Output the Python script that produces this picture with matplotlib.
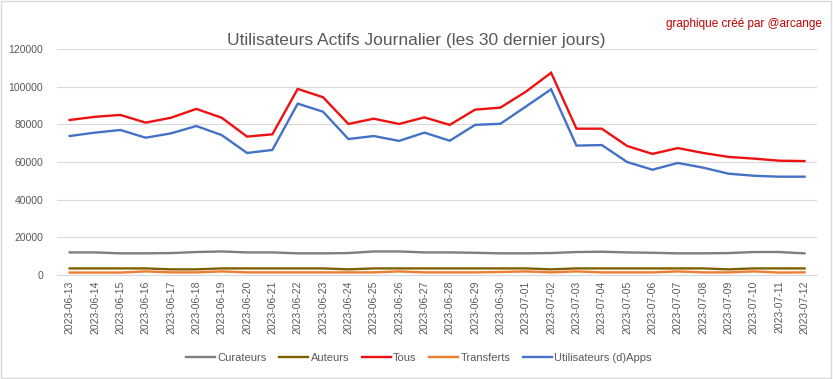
import numpy as np
import matplotlib
matplotlib.use('Agg')
import matplotlib.pyplot as plt
from matplotlib.patches import Rectangle

# Utilisateurs actifs journaliers - 30 derniers jours

dates = ['2023-06-13', '2023-06-14', '2023-06-15', '2023-06-16', '2023-06-17',
         '2023-06-18', '2023-06-19', '2023-06-20', '2023-06-21', '2023-06-22',
         '2023-06-23', '2023-06-24', '2023-06-25', '2023-06-26', '2023-06-27',
         '2023-06-28', '2023-06-29', '2023-06-30', '2023-07-01', '2023-07-02',
         '2023-07-03', '2023-07-04', '2023-07-05', '2023-07-06', '2023-07-07',
         '2023-07-08', '2023-07-09', '2023-07-10', '2023-07-11', '2023-07-12']

curateurs = [12000, 12000, 11500, 11500, 11650, 12200, 12500, 12000, 12000, 11500,
             11500, 11650, 12500, 12500, 12000, 12000, 11800, 11500, 11500, 11650,
             12200, 12350, 12000, 11800, 11500, 11500, 11650, 12200, 12200, 11500]

auteurs = [3500, 3500, 3500, 3500, 3000, 3000, 3500, 3500, 3500, 3500,
           3500, 3000, 3500, 3500, 3500, 3500, 3500, 3500, 3500, 3000,
           3500, 3500, 3500, 3500, 3500, 3500, 3000, 3500, 3500, 3500]

tous = [82300, 84000, 85000, 80900, 83500, 88200, 83500, 73500, 74700, 98800,
        94400, 80200, 83000, 80200, 83700, 79700, 87800, 88900, 97300, 107400,
        77700, 77700, 68500, 64300, 67400, 64800, 62700, 61800, 60700, 60500]

transferts = [1300, 1300, 1300, 1900, 1400, 1400, 1900, 1400, 1400, 1400,
              1400, 1400, 1400, 1900, 1400, 1400, 1400, 1600, 1900, 1400,
              1900, 1400, 1400, 1400, 1900, 1400, 1400, 1900, 1300, 1400]

dapps = [73800, 75600, 77000, 72900, 75200, 79100, 74300, 64800, 66400, 91000,
         86700, 72200, 73800, 71200, 75600, 71300, 79700, 80300, 89400, 98600,
         68700, 69000, 60000, 55900, 59500, 57000, 53800, 52700, 52200, 52200]

series = [('Curateurs', curateurs, '#7f7f7f'),
          ('Auteurs', auteurs, '#7f6000'),
          ('Tous', tous, '#ee1111'),
          ('Transferts', transferts, '#ed7d31'),
          ('Utilisateurs (d)Apps', dapps, '#4472c4')]

plt.rcParams['font.family'] = ['Liberation Sans', 'DejaVu Sans']

fig = plt.figure(figsize=(8.33, 3.79), dpi=100)
ax = fig.add_axes([0.0684, 0.2744, 0.9126, 0.5963])

x = np.arange(len(dates))
for name, vals, col in series:
    ax.plot(x, vals, color=col, lw=1.7, label=name, solid_joinstyle='miter')

ax.set_xlim(-0.5, len(dates) - 0.5)
ax.set_ylim(0, 120000)
ax.set_yticks(np.arange(0, 120001, 20000))
ax.set_xticks(x)
ax.set_xticklabels(dates, rotation=90)
ax.tick_params(axis='both', length=0, labelsize=7.5, labelcolor='#595959')
ax.tick_params(axis='x', pad=4)
ax.tick_params(axis='y', pad=10)
ax.grid(axis='y', color='#d9d9d9', lw=0.8)
ax.set_axisbelow(True)
for s in ['top', 'right', 'left']:
    ax.spines[s].set_visible(False)
ax.spines['bottom'].set_color('#d9d9d9')

fig.text(0.4994, 0.894, 'Utilisateurs Actifs Journalier (les 30 dernier jours)',
         ha='center', va='center', fontsize=12.5, color='#595959')
fig.text(0.987, 0.937, 'graphique créé par @arcange', ha='right', va='center',
         fontsize=8.5, color='#c00000')

leg = fig.legend(loc='center', bbox_to_anchor=(0.503, 0.056), ncol=5, frameon=False,
                 fontsize=8, handlelength=2.6, handletextpad=0.2, columnspacing=1.15)
for t in leg.get_texts():
    t.set_color('#595959')

fig.patches.append(Rectangle((0.001, 0.002), 0.996, 0.995, transform=fig.transFigure,
                             fill=False, edgecolor='#d9d9d9', lw=1))

plt.savefig('out.png', dpi=100)
